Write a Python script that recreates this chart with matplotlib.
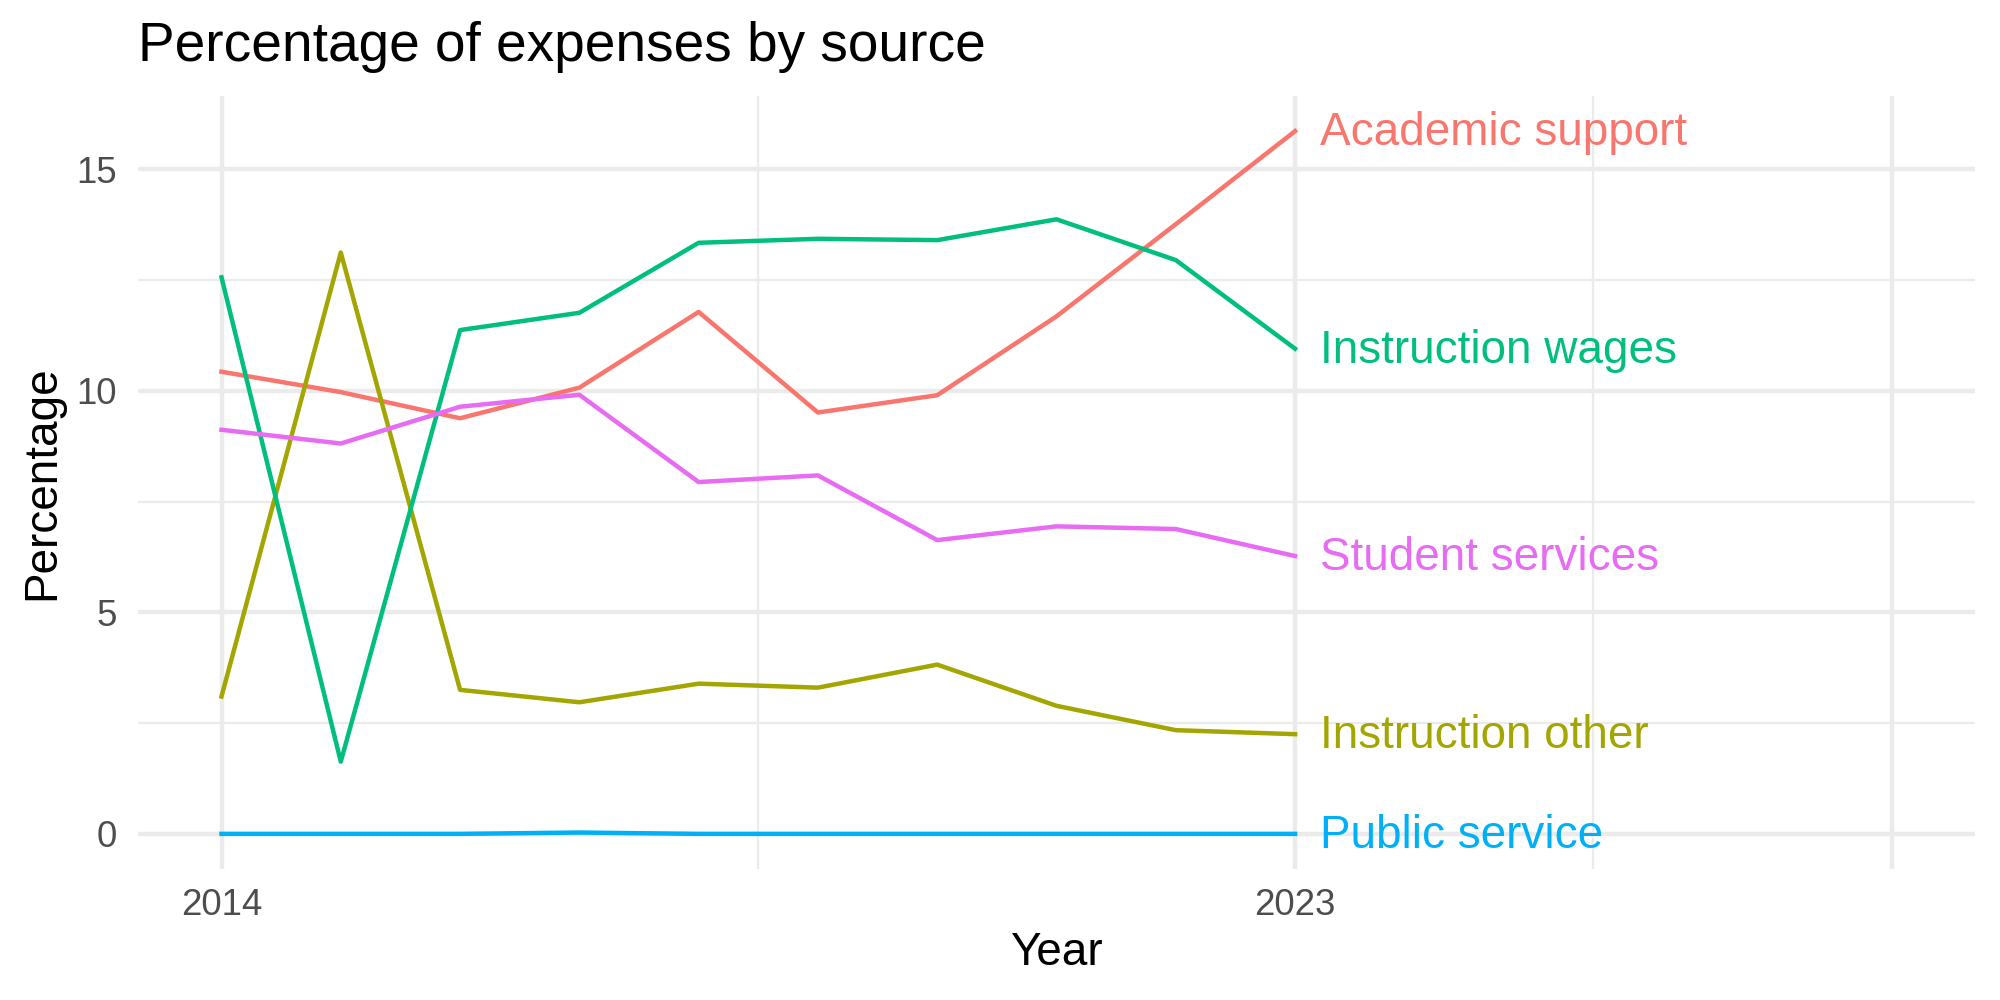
import matplotlib
matplotlib.use("Agg")
import matplotlib.pyplot as plt
from matplotlib.ticker import FixedLocator

plt.rcParams["font.family"] = ["Liberation Sans", "DejaVu Sans"]

years = [2014, 2015, 2016, 2017, 2018, 2019, 2020, 2021, 2022, 2023]

academic_support = [10.43, 9.97, 9.38, 10.07, 11.78, 9.51, 9.90, 11.68, 13.76, 15.86]
instruction_other = [3.10, 13.12, 3.25, 2.97, 3.39, 3.30, 3.82, 2.89, 2.34, 2.25]
instruction_wages = [12.56, 1.63, 11.37, 11.76, 13.34, 13.43, 13.40, 13.87, 12.95, 10.95]
public_service = [0.0, 0.0, 0.0, 0.03, 0.0, 0.0, 0.0, 0.0, 0.0, 0.0]
student_services = [9.12, 8.81, 9.64, 9.91, 7.94, 8.09, 6.63, 6.94, 6.88, 6.27]

series_names = ["Academic support", "Instruction other", "Instruction wages",
                "Public service", "Student services"]
series_values = [academic_support, instruction_other, instruction_wages,
                 public_service, student_services]
colors = ["#F8766D", "#A3A500", "#00BF7D", "#00B0F6", "#E76BF3"]

x_breaks = [2014, 2023, 2028]
x_tick_labels = ["2014", "2023", ""]
x_minor = [2018.5, 2025.5]
x_limits = (2014, 2028)

y_breaks = [0, 5, 10, 15]
y_minor = [2.5, 7.5, 12.5]

fig = plt.figure(figsize=(20 / 3, 10 / 3), dpi=300)
ax = fig.add_axes([0.069, 0.131, 0.9185, 0.773])

grid = "#EBEBEB"
for xv in x_breaks:
    ax.axvline(xv, color=grid, lw=1.07, zorder=0)
for xv in x_minor:
    ax.axvline(xv, color=grid, lw=0.53, zorder=0)
for yv in y_breaks:
    ax.axhline(yv, color=grid, lw=1.07, zorder=0)
for yv in y_minor:
    ax.axhline(yv, color=grid, lw=0.53, zorder=0)

# lines with a direct label at the end instead of a legend
for name, values, color in zip(series_names, series_values, colors):
    ax.plot(years, values, color=color, lw=1.07, zorder=2)
    ax.text(years[-1] + 0.21, values[-1] - 0.05, name, color=color, fontsize=11,
            ha="left", va="center", zorder=3)

span = x_limits[1] - x_limits[0]
ax.set_xlim(x_limits[0] - 0.05 * span, x_limits[1] + 0.05 * span)
ax.margins(y=0.05)

ax.xaxis.set_major_locator(FixedLocator(x_breaks))
ax.set_xticklabels(x_tick_labels)
ax.yaxis.set_major_locator(FixedLocator(y_breaks))
ax.tick_params(length=0, labelsize=8.8, labelcolor="#4D4D4D")
ax.tick_params(axis="x", pad=4.6)
ax.tick_params(axis="y", pad=5)

for spine in ax.spines.values():
    spine.set_visible(False)

ax.set_title("Percentage of expenses by source", loc="left", fontsize=13.2,
             pad=8.4, color="black")
fig.text(0.5 * (0.069 + 0.9875), 0.047, "Year", fontsize=11,
         ha="center", va="center")
fig.text(0.021, 0.131 + 0.773 / 2, "Percentage", fontsize=11, rotation=90,
         ha="center", va="center")

fig.savefig("out.png", dpi=300, facecolor="white")
